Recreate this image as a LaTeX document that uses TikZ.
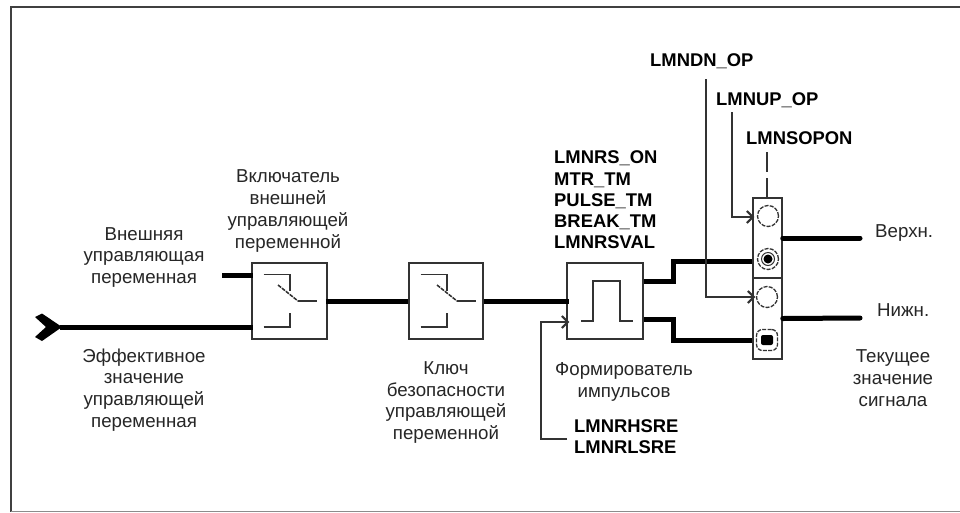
\documentclass[tikz,border=0pt]{standalone}
\usepackage{fontspec}
\setmainfont{Liberation Sans}
\usetikzlibrary{arrows.meta}
\tikzset{
  x=1pt,y=-1pt,
  frameline/.style={draw=black!75,line width=2pt},
  blockbox/.style={draw=black!80,line width=1.5pt,fill=white,inner sep=0pt,minimum width=#1},
  thick line/.style={draw=black,line width=5pt},
  thin line/.style={draw=black!80,line width=1.4pt},
  sym/.style={draw=black!80,line width=1.5pt},
  lbl/.style={font=\fontsize{18.7}{21.7}\selectfont,align=center,text=black!85,inner sep=0pt},
  tag/.style={font=\fontsize{18.4}{21.2}\selectfont\bfseries,align=left,text=black,inner sep=0pt},
  ring/.style={circle,draw=black!80,line width=1.3pt,dash pattern=on 4pt off 1.3pt,minimum size=21pt,inner sep=0pt,fill=white},
  tip/.style={-{Straight Barb[length=6pt,width=12pt,line width=2pt]}}
}
\begin{document}
\begin{tikzpicture}
\useasboundingbox (0,0) rectangle (960,512);
\fill[white] (0,0) rectangle (960,512);
\coordinate (ftr) at (960,6.5);
\coordinate (ftl) at (11,6.5);
\coordinate (fbl) at (11,512);
\coordinate (bbl) at (11,511.5);
\coordinate (bbr) at (960,511.5);
\draw[frameline] (ftr) -- (ftl) -- (fbl);
\draw[draw=black!45,line width=1.2pt] (bbl) -- (bbr);
% blocks
\node[blockbox=75pt,draw,minimum height=76pt] (sw1) at (289.5,301) {};
\node[blockbox=74pt,draw,minimum height=76pt] (sw2) at (446,301) {};
\node[blockbox=76pt,draw,minimum height=76pt] (pls) at (605,301) {};
\node[blockbox=29pt,draw,minimum height=80pt] (up) at (767.5,238) {};
\node[blockbox=29pt,draw,minimum height=81pt] (dn) at (767.5,318.5) {};
% free ends
\coordinate (extin) at (222,275);
\coordinate (effin) at (60,327);
\coordinate (upout) at (860,238);
\coordinate (dnout) at (860,318);
\coordinate (dnsrc) at (706,79);
\coordinate (upsrc) at (732,112);
\coordinate (sosrc) at (767,152);
\coordinate (rhsrc) at (567,439);
% thick connectors
\draw[thick line] (extin) -- ([xshift=2pt]extin -| sw1.west);
\draw[thick line] (effin) -- ([xshift=2pt]effin -| sw1.west);
\fill[black] (35,317) -- (42,313.5) -- (62,327) -- (42,341) -- (35,337) -- (46,327) -- cycle;
\draw[thick line] ([xshift=-2pt]sw1.east) -- (sw2.west);
\draw[thick line] (sw2.east) -- ([xshift=3pt]pls.west);
\draw[thick line,line join=miter] (pls.east |- 0,281) -- (673,281) -- (673,261) -- (up.west |- 0,261);
\draw[thick line,line join=miter] (pls.east |- 0,319) -- (673,319) -- (673,340) -- (dn.west |- 0,340);
\draw[thick line,line cap=round] (up.east) -- (upout);
\draw[thick line,line cap=round] (dn.east) -- (dnout);
% thin connectors
\draw[thin line,tip] (dnsrc) |- ([xshift=3pt]dn.west |- 0,297);
\draw[thin line,tip] (upsrc) |- ([xshift=2pt]up.west |- 0,217);
\draw[thin line,dash pattern=on 20pt off 6pt on 30pt] (sosrc) -- (sosrc |- up.north);
\draw[thin line,tip] (rhsrc) -- (541,439) -- (541,322) -- ([xshift=3pt]pls.west |- 0,322);
% switch symbols
\foreach \cx/\dx in {289/-11,446/-9}{
  \draw[sym] (\cx-25.5,274.5) -- (\cx+1,274.5) -- (\cx+1,291);
  \draw[sym,dash pattern=on 4pt off 1pt] (\cx+\dx,285) -- (\cx+\dx+20,301);
  \draw[sym] (\cx+\dx+20,301) -- (\cx+\dx+39,301);
  \draw[sym] (\cx-25.5,327) -- (\cx+1,327) -- (\cx+1,312.5);
}
% pulse symbol
\draw[sym] (581,321) -- (593,321) -- (593,281) -- (620,281) -- (620,321) -- (633,321);
% rings
\node[ring] (r1) at (768,216) {};
\node[ring] (r2) at (768,259) {};
\draw[black!80,line width=1pt] (r2) circle (6.5pt);
\fill[black] (r2) circle (4.5pt);
\node[ring] (r3) at (767,297) {};
\node[ring,rectangle,rounded corners=6pt] (r4) at (767,340) {};
\fill[black,rounded corners=2pt] (761,335) rectangle (773,345);
% labels
\node[lbl] (l1) at (144,257.5) {Внешняя\\управляющая\\переменная};
\node[lbl] (l2) at (144,390) {Эффективное\\значение\\управляющей\\переменная};
\node[lbl] (l3) at (288,211) {Включатель\\внешней\\управляющей\\переменной};
\node[lbl] (l4) at (446,402.5) {Ключ\\безопасности\\управляющей\\переменной};
\node[lbl] (l5) at (624,382) {Формирователь\\импульсов};
\node[lbl] (l6) at (893,378) {Текущее\\значение\\сигнала};
\node[lbl,anchor=west] (l7) at (875,233) {Верхн.};
\node[lbl,anchor=west] (l8) at (877,310) {Нижн.};
\node[tag,anchor=west] (t1) at (554,200) {LMNRS\_ON\\MTR\_TM\\PULSE\_TM\\BREAK\_TM\\LMNRSVAL};
\node[tag,anchor=west] (t2) at (574,437) {LMNRHSRE\\LMNRLSRE};
\node[tag,anchor=west] (t3) at (650,61) {LMNDN\_OP};
\node[tag,anchor=west] (t4) at (716,100) {LMNUP\_OP};
\node[tag,anchor=west] (t5) at (746,138) {LMNSOPON};
\end{tikzpicture}
\end{document}
